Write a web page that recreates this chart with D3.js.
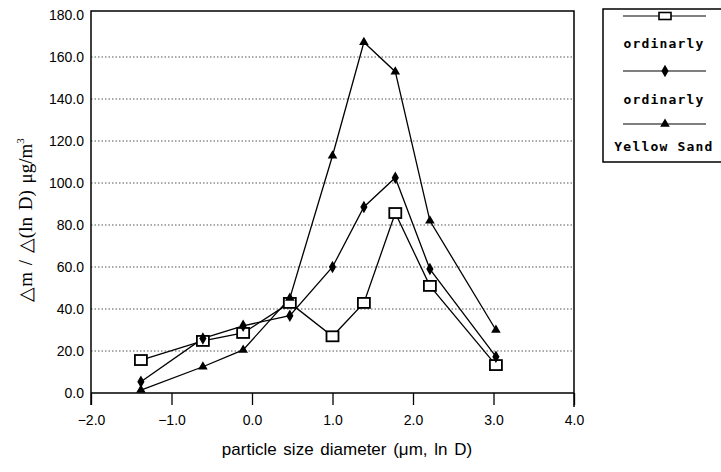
<!DOCTYPE html>
<html>
<head>
<meta charset="utf-8">
<script src="https://cdn.jsdelivr.net/npm/d3@7"></script>
<style>
  body { margin: 0; background: #fff; }
  svg { display: block; }
</style>
</head>
<body>
<svg width="721" height="472"></svg>
<script>
var sizes = [-1.38, -0.61, -0.11, 0.47, 1.0, 1.39, 1.78, 2.21, 3.03];
var ordinary1 = [15.7, 24.8, 28.6, 42.9, 27.0, 42.9, 85.7, 51.0, 13.3];
var ordinary2 = [5.4, 26.0, 32.0, 36.8, 60.0, 88.6, 102.5, 59.0, 17.3];
var yellowSand = [1.4, 12.5, 20.5, 45.2, 113.0, 167.0, 153.0, 82.0, 30.0];
var seriesNames = ["ordinarly", "ordinarly", "Yellow Sand"];
var xTicks = [-2, -1, 0, 1, 2, 3, 4];
var yTicks = [0, 20, 40, 60, 80, 100, 120, 140, 160, 180];

var svg = d3.select("svg");
var pLeft = 91, pRight = 574, pTop = 15, pBottom = 393;

var x = d3.scaleLinear().domain([-2, 4]).range([pLeft, pRight]);
var y = d3.scaleLinear().domain([0, 180]).range([pBottom, pTop]);

// dotted grid
svg.append("g")
  .selectAll("line")
  .data(yTicks.filter((d) => d > 0 && d < 180))
  .join("line")
  .attr("x1", pLeft)
  .attr("x2", pRight)
  .attr("y1", (d) => y(d))
  .attr("y2", (d) => y(d))
  .attr("stroke", "#555")
  .attr("stroke-width", 1)
  .attr("stroke-dasharray", "1.5,2");

// frame: left, top, right, bottom
svg.append("path")
  .attr("d", `M${pLeft},${pBottom + 12}V${pTop - 4}H${pRight}V${pBottom + 14}M${pLeft},${pBottom}H${pRight}`)
  .attr("fill", "none")
  .attr("stroke", "#000")
  .attr("stroke-width", 1.5);

// x axis
var xAxis = svg.append("g")
  .attr("transform", `translate(0,${pBottom})`)
  .call(d3.axisBottom(x).tickValues(xTicks).tickSize(12).tickPadding(10).tickFormat(d3.format(".1f")));
xAxis.select(".domain").remove();
xAxis.selectAll("line").attr("stroke", "#000").attr("stroke-width", 1.3);
xAxis.selectAll("text")
  .attr("font-family", "Liberation Sans, Arial, sans-serif")
  .attr("font-size", 14)
  .attr("fill", "#000");

// y axis labels only
var yAxis = svg.append("g")
  .attr("transform", `translate(${pLeft},0)`)
  .call(d3.axisLeft(y).tickValues(yTicks).tickSize(0).tickPadding(7).tickFormat(d3.format(".1f")));
yAxis.select(".domain").remove();
yAxis.selectAll("text")
  .attr("font-family", "Liberation Sans, Arial, sans-serif")
  .attr("font-size", 14)
  .attr("fill", "#000");

// axis titles
svg.append("text")
  .attr("x", 347)
  .attr("y", 455)
  .attr("text-anchor", "middle")
  .attr("font-family", "Liberation Sans, Arial, sans-serif")
  .attr("font-size", 17)
  .attr("word-spacing", 2)
  .text("particle size diameter (\u03bcm, ln D)");

var yTitle = svg.append("text")
  .attr("transform", "translate(32,220) rotate(-90)")
  .attr("text-anchor", "middle")
  .attr("font-family", "Liberation Serif, Times New Roman, serif")
  .attr("font-size", 19)
  .attr("word-spacing", 2);
yTitle.append("tspan").text("\u25b3m / \u25b3(ln D)  \u03bcg/m");
yTitle.append("tspan").attr("dy", -8).attr("font-size", 11).text("3");

// series
var line = d3.line().x((d, i) => x(sizes[i])).y((d) => y(d));
var allSeries = [ordinary1, ordinary2, yellowSand];

allSeries.forEach((vals) => {
  svg.append("path")
    .datum(vals)
    .attr("d", line)
    .attr("fill", "none")
    .attr("stroke", "#000")
    .attr("stroke-width", 1.3);
});

function drawMarker(g, s) {
  if (s === 0) {
    g.append("rect").attr("x", -6).attr("y", -5).attr("width", 12).attr("height", 10)
      .attr("fill", "#fff").attr("stroke", "#000").attr("stroke-width", 1.8);
  } else if (s === 1) {
    g.append("path").attr("d", d3.symbol().type(d3.symbolDiamond).size(45)).attr("fill", "#000");
  } else {
    g.append("path").attr("d", d3.symbol().type(d3.symbolTriangle).size(40)).attr("fill", "#000");
  }
}

allSeries.forEach((vals, s) => {
  vals.forEach((v, i) => {
    var g = svg.append("g").attr("transform", `translate(${x(sizes[i])},${y(v)})`);
    drawMarker(g, s);
  });
});

// legend
var legend = svg.append("g");
legend.append("path")
  .attr("d", "M721,9H603V162H721")
  .attr("fill", "none")
  .attr("stroke", "#000")
  .attr("stroke-width", 1.5);

var legendRows = [16, 71, 124];
var legendText = [48, 104, 151];
seriesNames.forEach((name, s) => {
  legend.append("line")
    .attr("x1", 623).attr("x2", 706)
    .attr("y1", legendRows[s]).attr("y2", legendRows[s])
    .attr("stroke", "#000").attr("stroke-width", 1.2);
  var g = legend.append("g").attr("transform", `translate(665,${legendRows[s]})`);
  if (s === 0) {
    g.append("rect").attr("x", -6).attr("y", -3.5).attr("width", 12).attr("height", 7)
      .attr("fill", "#fff").attr("stroke", "#000").attr("stroke-width", 1.6);
  } else {
    drawMarker(g, s);
  }
  legend.append("text")
    .attr("x", 664)
    .attr("y", legendText[s])
    .attr("text-anchor", "middle")
    .attr("font-family", "DejaVu Sans Mono, monospace")
    .attr("font-weight", "bold")
    .attr("font-size", 13)
    .attr("letter-spacing", 1.2)
    .text(name);
});
</script>
</body>
</html>
